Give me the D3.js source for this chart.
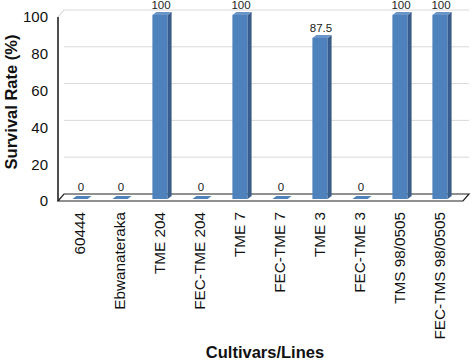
<!DOCTYPE html>
<html><head><meta charset="utf-8">
<script src="https://cdn.jsdelivr.net/npm/d3@7"></script>
<style>body{margin:0;background:#fff;} svg{display:block;font-family:"Liberation Sans",Arial,sans-serif;}</style>
</head><body>
<script>
const categories = ["60444","Ebwanateraka","TME 204","FEC-TME 204","TME 7","FEC-TME 7","TME 3","FEC-TME 3","TMS 98/0505","FEC-TMS 98/0505"];
const survival = [0,0,100,0,100,0,87.5,0,100,100];
const valueLabels = ["0","0","100","0","100","0","87.5","0","100","100"];
const yTicks = [0,20,40,60,80,100];

const W=472,H=360;
const svg=d3.select("body").append("svg").attr("width",W).attr("height",H);

const x=d3.scaleBand().domain(categories).range([60,460]).paddingInner(0.62).paddingOuter(0.31);
const yAxisScale=d3.scaleLinear().domain([0,100]).range([201,17]);
const yBar=d3.scaleLinear().domain([0,100]).range([199,15]);
const wallDx=6, wallDy=-7, barDx=4, barDy=-3;
const x0=58, x1=463;

// back wall gridlines
svg.append("g").selectAll("line").data(yTicks.filter(d=>d>0)).join("line")
  .attr("x1",x0+wallDx).attr("x2",x1+wallDx)
  .attr("y1",d=>yAxisScale(d)+wallDy).attr("y2",d=>yAxisScale(d)+wallDy)
  .attr("stroke","#d9d9d9").attr("stroke-width",1);

// floor
const floorY=yAxisScale(0);
svg.append("path")
  .attr("d",`M${x0},${floorY}L${x0+wallDx},${floorY+wallDy}L${x1+wallDx},${floorY+wallDy}L${x1},${floorY}Z`)
  .attr("fill","#fff").attr("stroke","#222").attr("stroke-width",1.2);
// top-left wall edge
svg.append("path")
  .attr("d",`M${x0},${yAxisScale(100)}L${x0+wallDx},${yAxisScale(100)+wallDy}`)
  .attr("fill","none").attr("stroke","#ccc").attr("stroke-width",1);
// front y axis line
svg.append("line").attr("x1",x0).attr("x2",x0).attr("y1",yAxisScale(100)).attr("y2",floorY)
  .attr("stroke","#222").attr("stroke-width",1.6);

// bars
const bw=x.bandwidth();
const gB=svg.append("g");
categories.forEach((c,i)=>{
  const v=survival[i];
  const bx=x(c), yt=yBar(v), yb=yBar(0);
  if(v>0){
    gB.append("rect").attr("x",bx).attr("y",yt).attr("width",bw).attr("height",yb-yt).attr("fill","#4f81bd");
    gB.append("path").attr("d",`M${bx+bw},${yt}L${bx+bw+barDx},${yt+barDy}L${bx+bw+barDx},${yb+barDy}L${bx+bw},${yb}Z`).attr("fill","#385d8a");
  }
  gB.append("path").attr("d",`M${bx},${yt}L${bx+barDx},${yt+barDy}L${bx+bw+barDx},${yt+barDy}L${bx+bw},${yt}Z`)
    .attr("fill",v>0?"#6a95c8":"#4f81bd");
  svg.append("text").attr("x",bx+bw/2+1).attr("y",yt+barDy-(v>0?3:5)).attr("text-anchor","middle")
    .attr("font-size",11.5).attr("fill","#222").text(valueLabels[i]);
});

// y axis ticks
const ya=svg.append("g").attr("transform","translate(50,0)")
  .call(d3.axisLeft(yAxisScale).tickValues(yTicks).tickSize(0).tickPadding(2));
ya.select(".domain").remove();
ya.selectAll("text").attr("font-size",15).attr("fill","#111").attr("font-family","Liberation Sans, Arial, sans-serif");

// x axis labels
const xa=svg.append("g").attr("transform","translate(0,212)")
  .call(d3.axisBottom(x).tickSize(0).tickPadding(0));
xa.select(".domain").remove();
xa.selectAll("text").attr("font-size",15.3).attr("fill","#111").attr("font-family","Liberation Sans, Arial, sans-serif")
  .attr("text-anchor","end").attr("transform","rotate(-90)").attr("x",0).attr("y",0).attr("dy","0.35em")
  .attr("dx",0);
xa.selectAll(".tick").attr("transform",d=>`translate(${x(d)+bw/2},0)`);

// titles
svg.append("text").attr("transform","translate(17,102) rotate(-90)").attr("text-anchor","middle")
  .attr("font-size",16.5).attr("font-weight","bold").attr("fill","#111").text("Survival Rate (%)");
svg.append("text").attr("x",265).attr("y",358).attr("text-anchor","middle")
  .attr("font-size",16.5).attr("font-weight","bold").attr("fill","#111").text("Cultivars/Lines");
</script>
</body></html>
